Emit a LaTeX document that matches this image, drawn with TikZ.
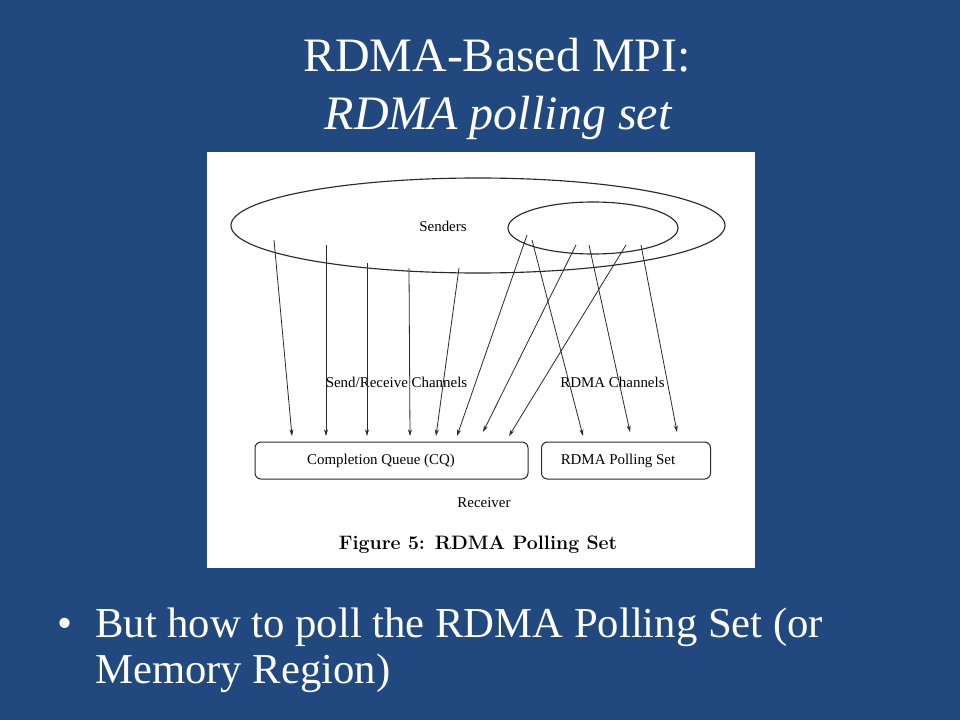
\documentclass[tikz,border=0pt]{standalone}
\usepackage{fontspec}
\newfontfamily\slidefont{Liberation Serif}
\usetikzlibrary{arrows.meta, positioning, shapes.geometric}
\definecolor{slideblue}{HTML}{21497F}
\definecolor{figureline}{HTML}{2A2A2A}
\tikzset{
  chanarrow/.style={figureline, line width=0.6pt, -{Stealth[length=5pt, width=3pt]}},
  queuebox/.style={draw=figureline, line width=0.75pt, rounded corners=4.5pt, minimum height=27.75pt, inner sep=0pt},
  setellipse/.style={ellipse, draw=figureline, line width=0.85pt, inner sep=0pt},
  figlabel/.style={text=black, inner sep=0pt, font=\slidefont\fontsize{11.2}{11.2}\selectfont},
  slidetext/.style={white, inner sep=0pt, anchor=base west, font=\slidefont\fontsize{32}{32}\selectfont}
}

\begin{document}
\begin{tikzpicture}[x=0.75pt, y=-0.75pt]
  % Slide background
  \fill[slideblue] (0,0) rectangle (960,720);
  \useasboundingbox (0,0) rectangle (960,720);

  % Title
  \node[white, anchor=base, inner sep=0pt, font=\slidefont\fontsize{36}{36}\selectfont] (title) at (497,72) {RDMA-Based MPI:};
  \node[white, anchor=base, inner sep=0pt, font=\slidefont\itshape\fontsize{36}{36}\selectfont] (subtitle) at (498,130) {RDMA polling set};

  % Figure panel
  \fill[white] (207,152) rectangle (755,568);

  % Senders and the RDMA subset
  \node[setellipse, minimum width=370.5pt, minimum height=71.25pt] (senders) at (478,225.5) {};
  \node[setellipse, minimum width=127.5pt, minimum height=39pt] (rdmasenders) at (593,228) {};
  \node[figlabel] (senderslabel) at (443,226) {Senders};

  % Receiver side
  \node[queuebox, minimum width=204.75pt] (cq) at (391.5,460.5) {};
  \node[queuebox, minimum width=126.75pt] (pollset) at (626,460.5) {};
  \node[figlabel] (cqlabel) at (381,461) {Completion Queue (CQ)};
  \node[figlabel] (pollsetlabel) at (618,461) {RDMA Polling Set};
  \node[figlabel] (receiver) at (484,503) {Receiver};

  % Channel labels
  \node[figlabel] (srlabel) at (396.5,382) {Send/Receive Channels};
  \node[figlabel] (rdmalabel) at (612.5,382) {RDMA Channels};

  % Channels
  \foreach \n/\x/\y in {1/274/240, 2/326/245, 3/367/263, 4/409/268, 5/459/268, 6/527/235,
                        7/532/240, 8/576/245, 9/589/245, 10/626/245, 11/641/245}
    \coordinate (s\n) at (\x,\y);
  \foreach \n/\x/\y in {1/292/436, 2/326/436, 3/367/436, 4/410/436, 5/436/436, 6/457/436,
                        7/583/436, 8/483/432, 9/630/432, 10/509/436, 11/677/432}
    \coordinate (e\n) at (\x,\y);
  \foreach \n in {1,...,11}
    \draw[chanarrow] (s\n) -- (e\n);

  % Caption
  \node[inner sep=0pt, font=\bfseries\fontsize{14.6}{14.6}\selectfont] (caption) at (478,545) {Figure 5: RDMA Polling Set};

  % Bullet point
  \node[slidetext, anchor=base] (bullet) at (65,637) {\textbullet};
  \node[slidetext] (bulletline1) at (95,637) {But how to poll the RDMA Polling Set (or};
  \node[slidetext] (bulletline2) at (95,683) {Memory Region)};
\end{tikzpicture}
\end{document}
